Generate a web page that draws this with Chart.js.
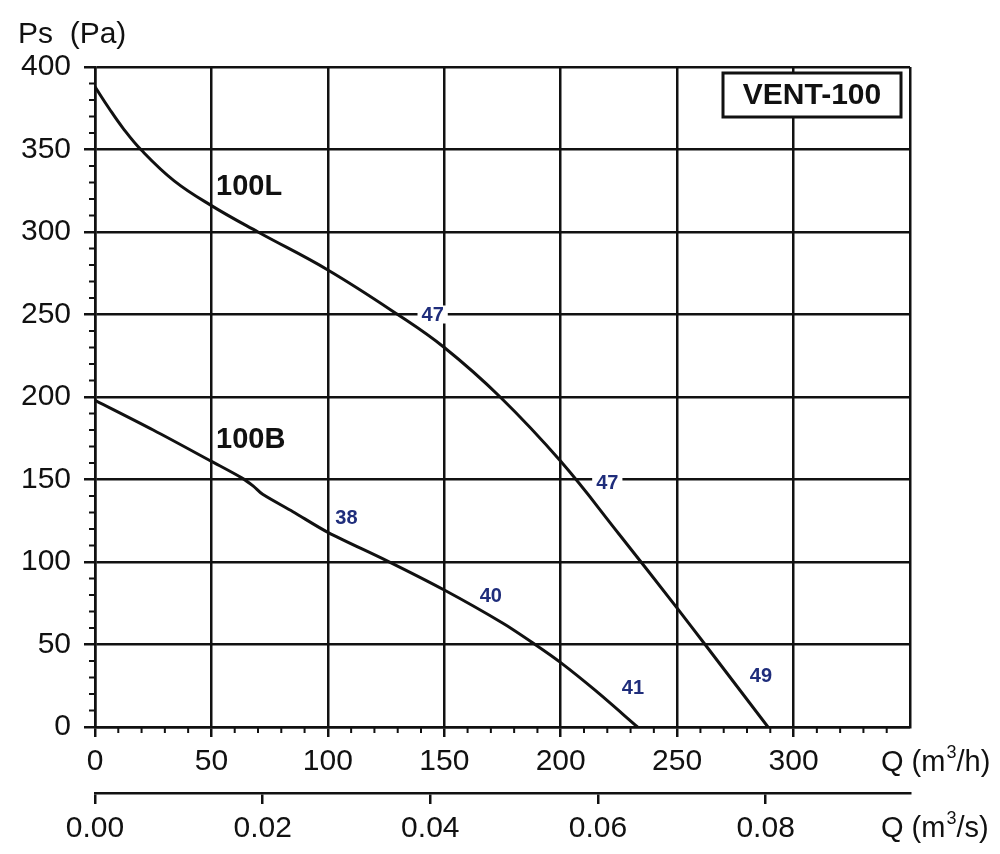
<!DOCTYPE html>
<html>
<head>
<meta charset="utf-8">
<script src="https://cdn.jsdelivr.net/npm/chart.js@4.4.1/dist/chart.umd.min.js"></script>
<style>
  body { margin: 0; background: #fff; }
  #wrap { width: 1000px; height: 854px; }
</style>
</head>
<body>
<div id="wrap"><canvas id="fanChart" width="1000" height="854"></canvas></div>
<script>
// fan curves, Q in m3/h, Ps in Pa
const qL = [0, 6, 12, 20, 34, 50, 70, 100, 130, 150, 174, 200, 225, 250, 262, 289];
const psL = [388, 375, 363, 349.5, 331, 316, 300, 277, 250, 230, 200, 161, 117, 72, 50, 0];
const qB = [0, 25, 50, 63, 68, 72, 85, 100, 125, 150, 175, 189, 200, 215, 233];
const psB = [198, 180, 161, 151, 146, 141, 130.5, 118, 101, 83, 63, 50, 39, 22, 0];

// efficiency / noise numbers printed along the curves
const markText = ['47', '47', '38', '40', '41', '49'];
const markQ = [145, 220, 108, 170, 231, 286];
const markPs = [250, 148, 127, 80, 24, 31];

// curve names
const curveNames = ['100L', '100B'];
const nameQ = [52, 52];
const namePs = [327, 174];

const modelName = 'VENT-100';
const Q_MAX = 350;           // m3/h
const PS_MAX = 400;          // Pa
const M3S_MAX = Q_MAX / 3600; // same range in m3/s

const ink = '#111';
const navy = '#1f2d7b';
const font = 'Liberation Sans, Arial, sans-serif';

const toPts = (xs, ys) => xs.map((x, i) => ({ x: x, y: ys[i] }));

const extras = {
  id: 'extras',
  afterDraw(chart) {
    const ctx = chart.ctx;
    const xs = chart.scales.x;
    const ys = chart.scales.y;
    const area = chart.chartArea;
    ctx.save();

    // minor ticks every 10
    ctx.strokeStyle = ink;
    ctx.lineWidth = 2;
    ctx.beginPath();
    for (let v = 10; v < PS_MAX; v += 10) {
      if (v % 50 === 0) continue;
      const py = ys.getPixelForValue(v);
      ctx.moveTo(area.left - 6, py);
      ctx.lineTo(area.left, py);
    }
    for (let v = 10; v < Q_MAX; v += 10) {
      if (v % 50 === 0) continue;
      const px = xs.getPixelForValue(v);
      ctx.moveTo(px, area.bottom);
      ctx.lineTo(px, area.bottom + 6);
    }
    ctx.stroke();

    // curve names
    ctx.fillStyle = ink;
    ctx.font = 'bold 29px ' + font;
    ctx.textAlign = 'left';
    ctx.textBaseline = 'middle';
    curveNames.forEach((t, i) => {
      ctx.fillText(t, xs.getPixelForValue(nameQ[i]), ys.getPixelForValue(namePs[i]));
    });

    // numbers on curves
    ctx.font = 'bold 20px ' + font;
    ctx.textAlign = 'center';
    markText.forEach((t, i) => {
      const px = xs.getPixelForValue(markQ[i]);
      const py = ys.getPixelForValue(markPs[i]);
      const w = ctx.measureText(t).width;
      ctx.fillStyle = '#fff';
      ctx.fillRect(px - w / 2 - 4, py - 9, w + 8, 18);
      ctx.fillStyle = navy;
      ctx.fillText(t, px, py + 1);
    });

    // model box
    const bx = area.right - 187, by = area.top + 6, bw = 178, bh = 44;
    ctx.fillStyle = '#fff';
    ctx.fillRect(bx, by, bw, bh);
    ctx.strokeStyle = ink;
    ctx.lineWidth = 3;
    ctx.strokeRect(bx, by, bw, bh);
    ctx.fillStyle = ink;
    ctx.font = 'bold 30px ' + font;
    ctx.fillText(modelName, bx + bw / 2, by + bh / 2 + 1);

    // axis titles
    ctx.textAlign = 'left';
    ctx.font = '30px ' + font;
    ctx.fillText('Ps  (Pa)', 18, 35);

    const unit = (x, y, tail) => {
      ctx.font = '29px ' + font;
      ctx.fillText('Q (m', x, y);
      let w = ctx.measureText('Q (m').width;
      ctx.font = '18px ' + font;
      ctx.fillText('3', x + w + 1, y - 10);
      w += ctx.measureText('3').width + 1;
      ctx.font = '29px ' + font;
      ctx.fillText(tail, x + w, y);
    };
    unit(881, 763, '/h)');
    unit(881, 829, '/s)');

    ctx.restore();
  }
};

const ctxFan = document.getElementById('fanChart').getContext('2d');
const fanChart = new Chart(ctxFan, {
  type: 'line',
  data: {
    datasets: [
      {
        label: '100L',
        data: toPts(qL, psL),
        borderColor: ink,
        borderWidth: 3,
        pointRadius: 0,
        tension: 0.4,
        fill: false
      },
      {
        label: '100B',
        data: toPts(qB, psB),
        borderColor: ink,
        borderWidth: 3,
        pointRadius: 0,
        tension: 0.3,
        fill: false
      }
    ]
  },
  options: {
    responsive: false,
    animation: false,
    layout: { padding: { left: 0, top: 67, right: 90, bottom: 0 } },
    scales: {
      x: {
        type: 'linear',
        position: 'bottom',
        min: 0,
        max: Q_MAX,
        ticks: {
          stepSize: 50,
          color: ink,
          font: { family: font, size: 30 },
          padding: 7,
          maxRotation: 0,
          callback: v => (v === Q_MAX ? '' : v)
        },
        grid: {
          color: ink,
          lineWidth: 2.5,
          tickLength: 10,
          tickColor: c => (c.tick && c.tick.value === Q_MAX ? 'rgba(0,0,0,0)' : ink)
        },
        border: { color: ink, width: 2.5 },
        afterFit: s => { s.height = 66; }
      },
      x2: {
        type: 'linear',
        position: 'bottom',
        min: 0,
        max: M3S_MAX,
        ticks: {
          stepSize: 0.02,
          includeBounds: false,
          color: ink,
          font: { family: font, size: 30 },
          padding: 7,
          maxRotation: 0,
          callback: v => v.toFixed(2)
        },
        grid: { drawOnChartArea: false, color: ink, lineWidth: 2.5, tickLength: 11 },
        border: { color: ink, width: 2.5 },
        afterFit: s => { s.height = 61; }
      },
      y: {
        min: 0,
        max: PS_MAX,
        ticks: {
          stepSize: 50,
          color: ink,
          font: { family: font, size: 30 },
          padding: 13
        },
        grid: { color: ink, lineWidth: 2.5, tickLength: 11 },
        border: { color: ink, width: 2.5 },
        afterFit: s => { s.width = 95; }
      }
    },
    plugins: {
      legend: { display: false },
      tooltip: { enabled: false }
    }
  },
  plugins: [extras]
});
</script>
</body>
</html>
